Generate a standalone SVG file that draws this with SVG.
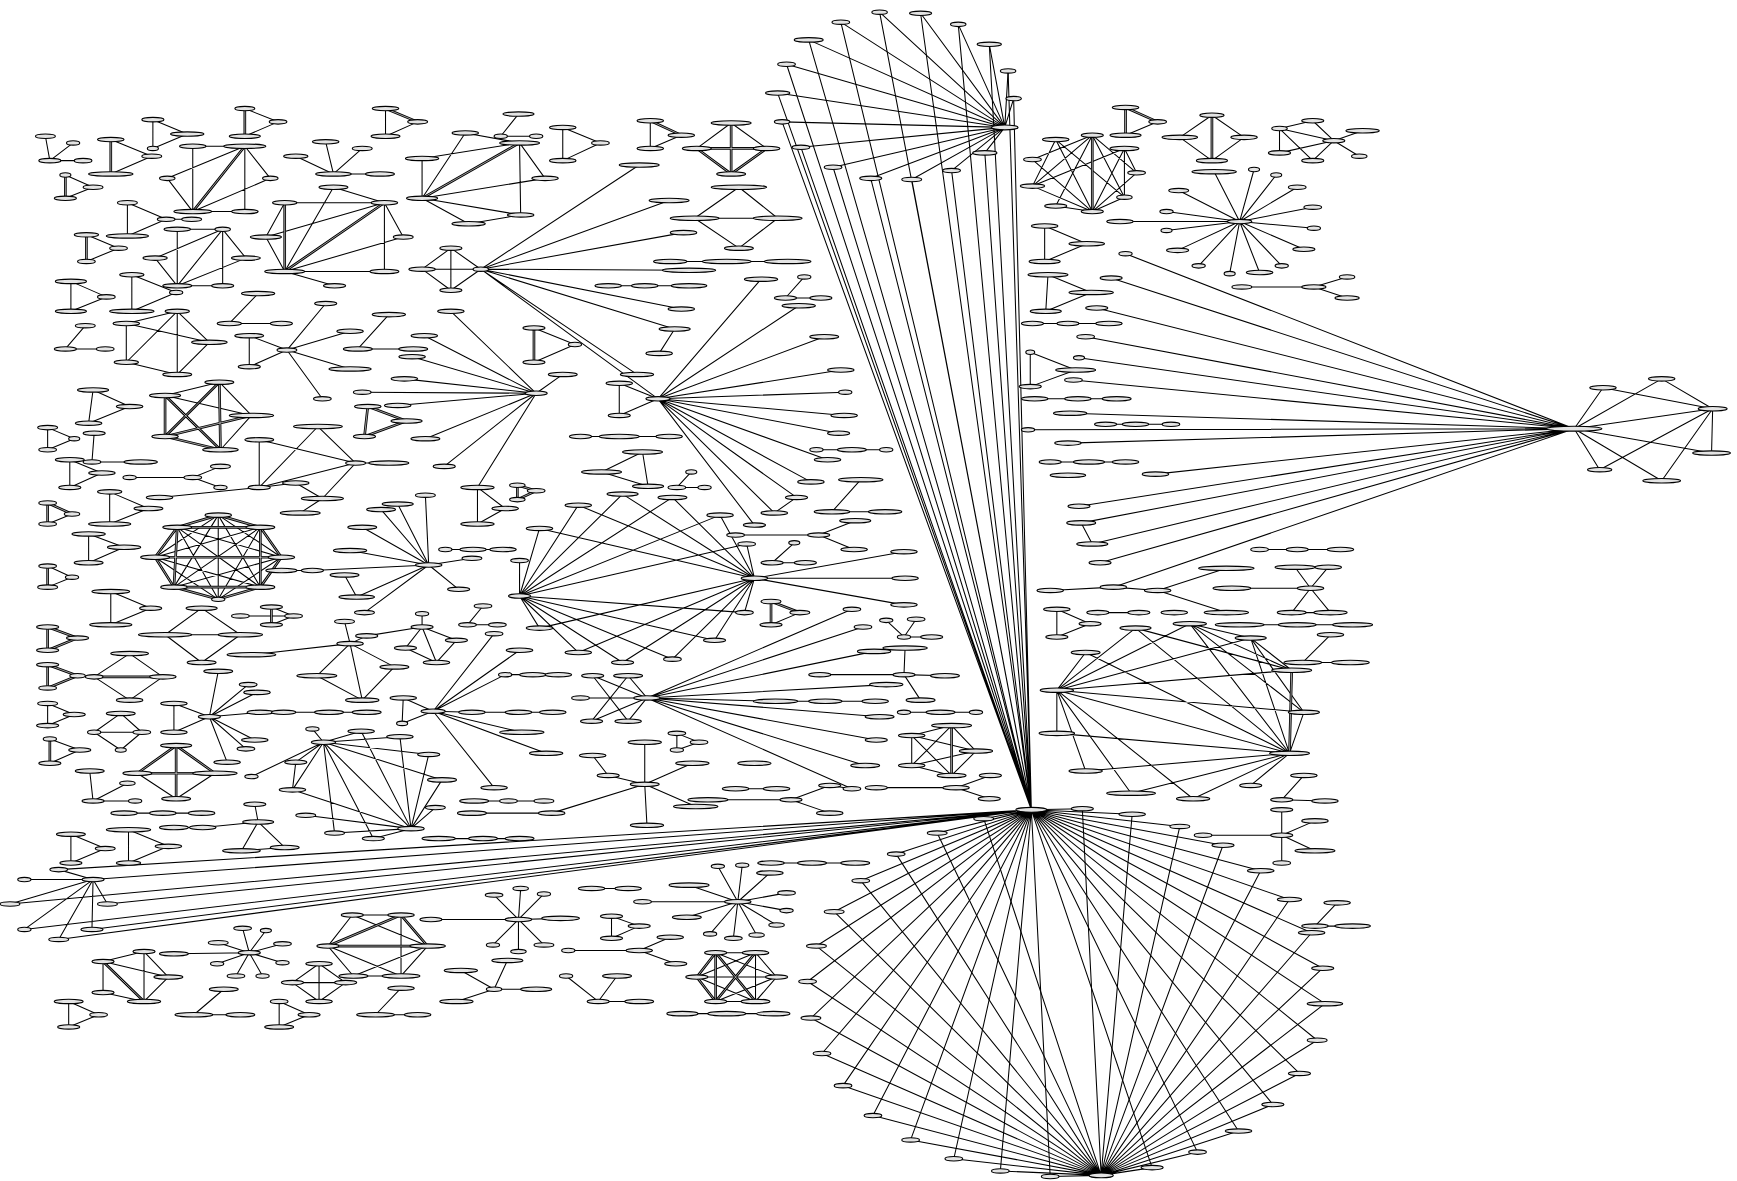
<svg xmlns="http://www.w3.org/2000/svg" width="1737" height="1181" viewBox="0 0 1737 1181">
<style>
.nodes ellipse{fill:#e4e4e4;stroke:#000;stroke-width:1}
#connectors path{fill:none;stroke:#000;stroke-width:.95}
</style>
<defs>
<path id="thA" d="M59 158L59 179M100 126L100 157M221 98L221 123M221 132L174 191M348 98L377 110M469 129L381 179M78 212L78 236M347 183L257 245M257 183L257 245M482 296L482 327"/>
<path id="thB" d="M467 438L467 451M467 438L484 443M484 443L467 451M587 109L615 122M660 111L660 157M629 134L692 134M629 134L660 157M692 134L660 157"/>
<path id="thC" d="M696 543L696 564M696 543L722 553M859 655L859 700"/>
<path id="thD" d="M198 345L149 394M198 345L199 406M149 357L199 406M149 357L149 394M227 375L149 394M149 394L199 406M43 454L43 473M43 454L65 464M43 511L43 530M43 566L43 587M43 566L70 576M70 576L43 587M43 600L43 621M43 600L70 610M70 610L43 621M45 667L45 689M85 611L147 611M159 673L124 698M159 673L194 698M124 698L194 698M159 673L159 721M197 465L160 476M197 465L235 476M160 476L140 503M235 476L254 503M140 503L157 530M254 503L235 530M157 530L197 541M235 530L197 541M160 476L157 530M235 476L235 530M160 476L235 476M157 530L235 530M140 503L254 503M245 548L245 564M332 367L329 394M332 367L367 380M367 380L329 394"/>
<path id="thE" d="M93 868L130 904M362 826L296 854M362 826L386 854M296 854L386 854M646 860L629 882M646 860L646 904M646 860L682 904M629 882L646 904M682 860L646 904"/>
<path id="thF" d="M1094 104L1094 145M1016 97L1016 122M1016 97L1045 110M986 122L986 191M1164 680L1166 605"/>
</defs>
<rect width="1737" height="1181" fill="#fff"/>
<g transform="scale(1.1078)">
<g id="connectors">
<path d="M907 115L759 20M907 115L794 11M907 115L831 12M907 115L865 22M907 115L893 40M907 115L910 64M907 115L915 89M907 115L730 36M907 115L710 58M907 115L702 84M907 115L706 110M907 115L723 133M907 115L752 151M907 115L786 161M907 115L823 162M907 115L859 154M907 115L889 138"/>
<path d="M759 20L931 731M794 11L931 731M831 12L931 731M865 22L931 731M893 40L931 731M910 64L931 731M915 89L931 731M730 36L931 731M710 58L931 731M702 84L931 731M706 110L931 731M723 133L931 731M752 151L931 731M786 161L931 731M823 162L931 731M859 154L931 731M889 138L931 731"/>
<path d="M931 731L888 739M931 731L846 752M931 731L809 771M931 731L777 795M931 731L753 823M931 731L737 854M931 731L729 886M931 731L732 919M931 731L742 951M931 731L761 980M931 731L788 1007M931 731L822 1029M931 731L861 1046M931 731L903 1057M931 731L948 1062M931 731L977 730M931 731L1022 735M931 731L1065 746M931 731L1104 763M931 731L1138 786M931 731L1164 812M931 731L1184 842M931 731L1194 874M931 731L1196 906M931 731L1189 939M931 731L1173 969M931 731L1149 997M931 731L1118 1021M931 731L1081 1040M931 731L1040 1054"/>
<path d="M994 1061L888 739M994 1061L846 752M994 1061L809 771M994 1061L777 795M994 1061L753 823M994 1061L737 854M994 1061L729 886M994 1061L732 919M994 1061L742 951M994 1061L761 980M994 1061L788 1007M994 1061L822 1029M994 1061L861 1046M994 1061L903 1057M994 1061L948 1062M994 1061L977 730M994 1061L1022 735M994 1061L1065 746M994 1061L1104 763M994 1061L1138 786M994 1061L1164 812M994 1061L1184 842M994 1061L1194 874M994 1061L1196 906M994 1061L1189 939M994 1061L1173 969M994 1061L1149 997M994 1061L1118 1021M994 1061L1081 1040M994 1061L1040 1054"/>
<path d="M84 794L53 785M84 794L22 794M84 794L9 816M84 794L97 816M84 794L22 839M84 794L83 839M84 794L53 848M53 785L931 731M84 794L931 731M97 816L931 731M22 839L931 731M83 839L931 731M53 848L931 731M9 816L931 731"/>
<path d="M1421 387L1016 229M1421 387L1003 251M1421 387L990 278M1421 387L980 304M1421 387L974 323M1421 387L969 343M1421 387L966 373M1421 387L928 388M1421 387L964 400M1421 387L1043 428M1421 387L974 457M1421 387L976 472M1421 387L986 491M1421 387L993 508M1421 387L1005 530M1421 387L1447 350M1421 387L1500 342M1500 342L1546 369M1421 387L1546 369M1546 369L1545 409M1421 387L1545 409M1421 387L1444 424M1421 387L1500 434M1546 369L1444 424M1546 369L1500 434M1447 350L1546 369"/>
<path d="M41 123L45 145M66 129L45 145M45 145L75 145M59 158L84 169M84 169L59 179M100 126L137 141M137 141L100 157M138 108L138 134M138 108L169 121M169 121L138 134M221 98L251 110M251 110L221 123M221 132L174 132M221 132L151 161M221 132L244 161M221 132L221 191M174 132L174 191M151 161L174 191M174 191L244 161M174 191L221 191M348 98L348 123M377 110L348 123M294 128L301 157M327 134L301 157M267 141L301 157M301 157L343 157M468 103L452 123M452 123L484 123M469 129L420 120M469 129L381 143M469 129L492 161M469 129L470 194M381 143L381 179M420 120L381 179M381 179L492 161M381 179L423 202M423 202L470 194M381 179L470 194M508 115L508 145M508 115L542 129M542 129L508 145M115 183L115 213M115 183L150 198M150 198L173 198M150 198L115 213M78 212L107 224M107 224L78 236M201 207L160 207M201 207L140 233M201 207L160 258M201 207L201 258M201 207L222 233M160 207L160 258M140 233L160 258M160 258L201 258M160 258L222 233M64 254L64 281M64 254L96 268M96 268L64 281M119 248L119 281M119 248L159 264M159 264L119 281M347 183L257 183M301 169L257 245M347 183L240 214M347 183L347 245M347 183L364 214M257 183L240 214M240 214L257 245M257 245L347 245M257 245L364 214M257 245L302 258M301 169L347 183M233 265L207 292M207 292L254 292M77 294L59 315M59 315L95 315M160 281L114 292M160 281L189 309M160 281L160 338M114 292L114 327M160 281L114 327M114 327L160 338M189 309L160 338M114 292L189 309M259 316L294 274M259 316L316 299M259 316L225 331M225 303L225 331M225 303L259 316M259 316L316 333M259 316L291 360M351 284L323 315M323 315L373 315M482 296L519 311M519 311L482 327"/>
<path d="M381 243L407 224M381 243L407 262M381 243L434 243M407 224L407 262M407 224L434 243M407 262L434 243M434 243L577 149M434 243L604 181M434 243L617 210M434 243L622 244M434 243L615 279M434 243L609 297M434 243L575 338M609 297L595 319M434 243L594 360M549 258L582 258M582 258L622 258M484 355L383 303M484 355L372 322M484 355L365 342M484 355L327 354M484 355L407 281M484 355L508 338M484 355L384 396M484 355L401 421M484 355L431 440M484 355L359 366M594 360L687 252M594 360L721 276M594 360L744 304M594 360L759 334M594 360L763 354M594 360L762 375M594 360L757 391M594 360L747 415M594 360L732 435M594 360L719 449M594 360L699 463M594 360L681 474M594 360L559 346M594 360L559 375M559 346L559 375M719 449L699 463M726 250L709 269M709 269L741 269M737 406L769 406M769 406L800 406M777 433L751 462M751 462L799 462M664 483L739 483M739 483L772 470M739 483L771 496M717 490L697 508M697 508L727 508M524 394L559 394M559 394L604 394M543 426L580 408M580 408L585 439M543 426L585 439M624 426L611 440M611 440L636 440M431 440L431 473M431 440L456 459M456 459L431 473M587 109L587 134M615 122L587 134M660 111L629 134M660 111L692 134M667 169L627 197M667 169L702 197M627 197L702 197M627 197L667 224M702 197L667 224M605 236L656 236M656 236L711 236"/>
<path d="M469 538L469 506M469 538L487 477M469 538L522 456M469 538L562 446M469 538L607 449M469 538L650 465M469 538L674 491M469 538L487 567M469 538L522 589M469 538L562 598M469 538L607 595M469 538L645 578M469 538L672 553M681 522L487 477M681 522L522 456M681 522L562 446M681 522L607 449M681 522L650 465M681 522L674 491M681 522L487 567M681 522L522 589M681 522L562 598M681 522L607 595M681 522L645 578M681 522L672 553M681 522L816 498M681 522L817 522M681 522L816 546M722 553L696 564M584 630L769 550M584 630L779 566M584 630L789 588M584 630L800 618M584 630L794 647M584 630L791 668M584 630L781 691M584 630L769 712M584 630L524 630M584 630L535 610M584 630L567 610M584 630L534 651M584 630L567 651M535 610L567 651M567 610L534 651M584 630L700 633M700 633L745 633M745 633L790 633M817 585L816 609M740 609L816 609M816 609L853 610M816 609L831 632M800 560L816 575M827 559L816 575M816 575L841 575M816 643L849 643M849 643L881 643M823 664L859 655M823 664L823 691M823 664L881 678M823 664L859 700M859 655L881 678M859 655L823 691M823 691L881 678M823 691L859 700M881 678L859 700M611 662L611 677M611 662L631 670M631 670L611 677M582 670L582 708M582 708L625 689M582 708L584 745M582 708L628 728M535 682L549 700M549 700L582 708M498 734L582 708M426 734L498 734M664 712L701 712M639 722L714 722M714 722L749 709M714 722L749 734M749 709L769 712M791 711L863 711M863 711L894 700M863 711L893 721"/>
<path d="M84 352L80 382M84 352L117 367M117 367L80 382M198 345L149 357M198 345L227 375M149 357L227 375M227 375L199 406M43 386L43 406M43 386L67 396M67 396L43 406M85 391L83 417M83 417L127 417M63 415L63 440M63 415L92 427M92 427L63 440M117 431L174 431M174 431L199 421M174 431L199 440M99 444L99 473M99 444L134 459M134 459L99 473M65 464L43 473M80 482L80 508M80 482L112 494M112 494L80 508M43 511L65 521M65 521L43 530M100 534L100 564M100 534L136 549M136 549L100 564M43 635L43 655M43 635L67 645M67 645L43 655M45 667L72 677M72 677L45 689M81 696L84 723M115 707L84 723M84 723L122 723M182 549L149 573M182 549L217 573M149 573L217 573M149 573L182 598M217 573L182 598M117 590L85 611M117 590L147 611M85 611L117 632M147 611L117 632M109 644L85 661M109 644L128 661M85 661L109 677M128 661L109 677M85 661L128 661M124 698L159 721M194 698L159 721M197 465L140 503M197 465L254 503M197 465L157 530M197 465L235 530M197 465L197 541M160 476L254 503M160 476L235 530M160 476L197 541M235 476L140 503M235 476L157 530M235 476L197 541M140 503L235 530M140 503L197 541M254 503L157 530M254 503L197 541M245 548L265 556M265 556L245 564M217 556L265 556M287 385L321 418M234 397L234 440M234 397L321 418M321 418L351 418M321 418L234 440M321 418L291 450M234 440L287 385M234 440L267 436M267 436L291 450M144 449L234 440M291 450L271 463M387 510L316 497M387 510L327 476M387 510L344 460M387 510L359 455M387 510L384 447M387 510L426 504M387 510L414 532M387 510L329 553M387 510L322 539M311 519L322 539M387 510L282 515M282 515L254 515M402 496L427 496M427 496L454 496M381 554L381 566M381 566L366 585M381 566L394 598M381 566L412 578M412 578L394 598M366 585L394 598M381 566L331 574M436 547L422 564M422 564L449 564M316 581L311 561M316 581L227 591M316 581L286 610M316 581L356 602M316 581L331 574M286 610L327 632M356 602L327 632M316 581L327 632M391 642L364 630M391 642L363 653M391 642L446 572M391 642L469 587M391 642L456 609M391 642L426 643M391 642L471 661M391 642L493 680M391 642L446 711M364 630L363 653M426 643L468 643M468 643L499 643M456 609L481 609M481 609L504 609M189 647L197 606M189 647L224 618M189 647L232 625M189 647L235 643M189 647L230 668M189 647L222 676M189 647L205 688M189 647L157 635M189 647L157 661M157 635L157 661M256 643L297 643M297 643L331 643M292 670L282 658M292 670L326 660M292 670L361 665M292 670L387 681M292 670L399 704M292 670L267 688M292 670L264 713M292 670L302 752M292 670L337 757M292 670L371 748M292 670L227 701M371 748L326 660M371 748L361 665M371 748L387 681M371 748L399 704M371 748L393 729M371 748L302 752M371 748L337 757M371 748L264 713M371 748L276 736M267 688L264 713"/>
<path d="M112 734L147 734M147 734L182 734M230 726L233 742M233 742L183 747M157 747L183 747M233 742L218 768M233 742L257 765M218 768L257 765M64 753L64 779M64 753L95 766M95 766L64 779M116 749L116 779M116 749L152 764M152 764L116 779M396 757L436 757M436 757L469 757M428 723L459 723M459 723L491 723M93 868L130 859M93 868L93 896M130 859L130 904M130 859L152 882M93 868L152 882M152 882L130 904M93 896L130 904M62 904L62 927M62 904L89 916M89 916L62 927M202 893L175 916M175 916L217 916M252 904L252 927M252 904L279 916M279 916L252 927M362 892L339 916M339 916L377 916M288 870L264 887M288 870L312 887M264 887L288 904M312 887L288 904M264 887L312 887M288 870L288 904M318 826L362 826M318 826L296 854M362 826L362 881M296 854L319 881M296 854L362 881M386 854L362 881M319 881L362 881M318 826L386 854M386 854L319 881M225 860L219 838M225 860L240 840M225 860L255 852M225 860L255 869M225 860L237 881M225 860L213 881M225 860L196 870M225 860L197 851M225 860L157 861M468 830L446 808M468 830L470 802M468 830L491 807M468 830L506 829M468 830L491 853M468 830L468 859M468 830L445 853M468 830L389 830M446 893L458 867M446 893L416 876M446 893L484 893M446 893L412 904M666 814L648 782M666 814L670 781M666 814L695 788M666 814L710 806M666 814L710 822M666 814L701 835M666 814L683 844M666 814L662 847M666 814L641 843M666 814L620 828M666 814L622 799M666 814L580 814M696 779L733 779M733 779L772 779M534 802L567 802M552 827L552 847M552 827L577 836M577 836L552 847M577 858L605 846M577 858L610 870M513 858L577 858M646 860L682 860M646 860L701 882M682 860L629 882M682 860L701 882M682 860L682 904M629 882L701 882M629 882L682 904M701 882L646 904M701 882L682 904M646 904L682 904M616 915L656 915M656 915L698 915M511 881L540 904M557 881L540 904M540 904L577 904"/>
<path d="M1094 104L1065 124M1094 104L1123 124M1065 124L1094 145M1123 124L1094 145M1155 116L1155 138M1155 116L1185 109M1155 116L1204 127M1155 116L1185 145M1185 109L1204 127M1204 127L1230 118M1204 127L1155 138M1204 127L1185 145M1204 127L1227 141M1119 200L1096 155M1119 200L1132 153M1119 200L1152 158M1119 200L1171 169M1119 200L1185 187M1119 200L1186 206M1119 200L1177 225M1119 200L1157 240M1119 200L1137 246M1119 200L1110 247M1119 200L1082 240M1119 200L1063 226M1119 200L1053 208M1119 200L1053 191M1119 200L1064 172M1119 200L1011 200M1121 259L1186 259M1186 259L1216 250M1186 259L1216 269M1016 122L1045 110M986 122L932 144M986 122L953 186M986 122L1015 178M986 122L1026 156M986 122L932 168M953 126L986 191M953 126L1015 178M932 144L986 191M932 168L986 191M1015 134L986 191M1015 134L1026 156M1015 134L1015 178M1026 156L986 191M1015 178L986 191M953 186L986 191M953 126L932 168M1015 134L932 168M943 204L943 236M943 204L981 220M981 220L943 236M946 248L944 281M946 248L985 264M985 264L944 281M932 292L964 292M964 292L1001 292M930 318L930 349M930 318L971 334M971 334L930 349M934 360L973 360M973 360L1008 360M998 383L1025 383M1025 383L1057 383M948 417L983 417M983 417L1016 417M976 472L986 491M948 533L1005 530M1005 530L1045 533M954 550L954 575M954 550L984 563M984 563L954 575M991 553L1028 553M954 623L1025 567M954 623L1074 563M954 623L1129 576M954 623L1166 605M954 623L1177 643M954 623L1164 680M954 623L980 589M954 623L954 662M954 623L980 696M954 623L1021 716M954 623L1077 721M1164 680L1025 567M1164 680L1074 563M1164 680L1129 576M1164 680L1177 643M1164 680L980 589M1164 680L954 662M1164 680L980 696M1164 680L1021 716M1164 680L1077 721M1164 680L1129 709M1074 563L1129 576M1074 563L1166 605M1074 563L1177 643M1129 576L1177 643M1129 576L1166 605M1025 567L1166 605M1137 496L1171 496M1171 496L1210 496M1045 533L1107 513M1045 533L1107 553M1112 531L1183 531M1183 531L1169 512M1183 531L1199 512M1183 531L1166 553M1183 531L1201 553M1169 512L1199 512M1166 553L1201 553M1119 564L1171 564M1171 564L1221 564M1201 573L1176 598M1176 598L1219 598M1177 700L1157 722M1157 722L1196 723M1157 731L1157 754M1086 754L1157 754M1157 754L1187 741M1157 754L1187 768M1157 754L1157 779M1187 836L1207 815M1187 836L1221 836"/>
<g id="multiEdges" style="fill:none;stroke:#000;stroke-width:2.4">
<use href="#thA"/><use href="#thB"/><use href="#thC"/><use href="#thD"/><use href="#thE"/><use href="#thF"/>
</g>
<g id="multiEdgeGaps" style="fill:none;stroke:#fff;stroke-width:.55">
<use href="#thA"/><use href="#thB"/><use href="#thC"/><use href="#thD"/><use href="#thE"/><use href="#thF"/>
</g>
</g>
<g class="nodes">
<g id="hubT"><ellipse cx="907" cy="115" rx="12" ry="2.2"/></g>
<g id="t1"><ellipse cx="759" cy="20" rx="8" ry="2"/></g>
<g id="t2"><ellipse cx="794" cy="11" rx="7" ry="2"/></g>
<g id="t3"><ellipse cx="831" cy="12" rx="10" ry="2"/></g>
<g id="t4"><ellipse cx="865" cy="22" rx="7" ry="2"/></g>
<g id="t5"><ellipse cx="893" cy="40" rx="11" ry="2"/></g>
<g id="t6"><ellipse cx="910" cy="64" rx="7" ry="2"/></g>
<g id="t7"><ellipse cx="915" cy="89" rx="7" ry="2"/></g>
<g id="t8"><ellipse cx="730" cy="36" rx="13" ry="2"/></g>
<g id="t9"><ellipse cx="710" cy="58" rx="8" ry="2"/></g>
<g id="t10"><ellipse cx="702" cy="84" rx="11" ry="2"/></g>
<g id="t11"><ellipse cx="706" cy="110" rx="7" ry="2"/></g>
<g id="t12"><ellipse cx="723" cy="133" rx="8" ry="2"/></g>
<g id="t13"><ellipse cx="752" cy="151" rx="8" ry="2"/></g>
<g id="t14"><ellipse cx="786" cy="161" rx="10" ry="2"/></g>
<g id="t15"><ellipse cx="823" cy="162" rx="9" ry="2"/></g>
<g id="t16"><ellipse cx="859" cy="154" rx="8" ry="2"/></g>
<g id="t17"><ellipse cx="889" cy="138" rx="11" ry="2"/></g>
<g id="hubB"><ellipse cx="931" cy="731" rx="14" ry="2.2"/></g>
<g id="hubBB"><ellipse cx="994" cy="1061" rx="11" ry="2.2"/></g>
<g id="f1"><ellipse cx="888" cy="739" rx="9" ry="2"/></g>
<g id="f2"><ellipse cx="846" cy="752" rx="9" ry="2"/></g>
<g id="f3"><ellipse cx="809" cy="771" rx="8" ry="2"/></g>
<g id="f4"><ellipse cx="777" cy="795" rx="8" ry="2"/></g>
<g id="f5"><ellipse cx="753" cy="823" rx="9" ry="2"/></g>
<g id="f6"><ellipse cx="737" cy="854" rx="9" ry="2"/></g>
<g id="f7"><ellipse cx="729" cy="886" rx="8" ry="2"/></g>
<g id="f8"><ellipse cx="732" cy="919" rx="9" ry="2"/></g>
<g id="f9"><ellipse cx="742" cy="951" rx="8" ry="2"/></g>
<g id="f10"><ellipse cx="761" cy="980" rx="8" ry="2"/></g>
<g id="f11"><ellipse cx="788" cy="1007" rx="8" ry="2"/></g>
<g id="f12"><ellipse cx="822" cy="1029" rx="8" ry="2"/></g>
<g id="f13"><ellipse cx="861" cy="1046" rx="8" ry="2"/></g>
<g id="f14"><ellipse cx="903" cy="1057" rx="8" ry="2"/></g>
<g id="f15"><ellipse cx="948" cy="1062" rx="8" ry="2"/></g>
<g id="f16"><ellipse cx="977" cy="730" rx="10" ry="2"/></g>
<g id="f17"><ellipse cx="1022" cy="735" rx="12" ry="2"/></g>
<g id="f18"><ellipse cx="1065" cy="746" rx="9" ry="2"/></g>
<g id="f19"><ellipse cx="1104" cy="763" rx="10" ry="2"/></g>
<g id="f20"><ellipse cx="1138" cy="786" rx="12" ry="2"/></g>
<g id="f21"><ellipse cx="1164" cy="812" rx="11" ry="2"/></g>
<g id="f22"><ellipse cx="1184" cy="842" rx="12" ry="2"/></g>
<g id="f23"><ellipse cx="1194" cy="874" rx="10" ry="2"/></g>
<g id="f24"><ellipse cx="1196" cy="906" rx="16" ry="2"/></g>
<g id="f25"><ellipse cx="1189" cy="939" rx="9" ry="2"/></g>
<g id="f26"><ellipse cx="1173" cy="969" rx="10" ry="2"/></g>
<g id="f27"><ellipse cx="1149" cy="997" rx="10" ry="2"/></g>
<g id="f28"><ellipse cx="1118" cy="1021" rx="12" ry="2"/></g>
<g id="f29"><ellipse cx="1081" cy="1040" rx="8" ry="2"/></g>
<g id="f30"><ellipse cx="1040" cy="1054" rx="10" ry="2"/></g>
<g id="hubL"><ellipse cx="84" cy="794" rx="10" ry="2"/></g>
<g id="l1"><ellipse cx="53" cy="785" rx="8" ry="2"/></g>
<g id="l2"><ellipse cx="22" cy="794" rx="6" ry="2"/></g>
<g id="l3"><ellipse cx="9" cy="816" rx="9" ry="2"/></g>
<g id="l4"><ellipse cx="97" cy="816" rx="9" ry="2"/></g>
<g id="l5"><ellipse cx="22" cy="839" rx="6" ry="2"/></g>
<g id="l6"><ellipse cx="83" cy="839" rx="10" ry="2"/></g>
<g id="l7"><ellipse cx="53" cy="848" rx="9" ry="2"/></g>
<g id="hubR"><ellipse cx="1421" cy="387" rx="25" ry="2.2"/></g>
<g id="r1"><ellipse cx="1447" cy="350" rx="12" ry="2"/></g>
<g id="r2"><ellipse cx="1500" cy="342" rx="12" ry="2"/></g>
<g id="r3"><ellipse cx="1546" cy="369" rx="13" ry="2"/></g>
<g id="r4"><ellipse cx="1545" cy="409" rx="17" ry="2"/></g>
<g id="r5"><ellipse cx="1444" cy="424" rx="11" ry="2"/></g>
<g id="r6"><ellipse cx="1500" cy="434" rx="17" ry="2"/></g>
<g id="rs1"><ellipse cx="1016" cy="229" rx="6" ry="2"/></g>
<g id="rs2"><ellipse cx="1003" cy="251" rx="10" ry="2"/></g>
<g id="rs3"><ellipse cx="990" cy="278" rx="10" ry="2"/></g>
<g id="rs4"><ellipse cx="980" cy="304" rx="8" ry="2"/></g>
<g id="rs5"><ellipse cx="974" cy="323" rx="5" ry="2"/></g>
<g id="rs6"><ellipse cx="969" cy="343" rx="8" ry="2"/></g>
<g id="rs7"><ellipse cx="966" cy="373" rx="15" ry="2"/></g>
<g id="rs8"><ellipse cx="928" cy="388" rx="6" ry="2"/></g>
<g id="rs9"><ellipse cx="964" cy="400" rx="12" ry="2"/></g>
<g id="rs10"><ellipse cx="1043" cy="428" rx="12" ry="2"/></g>
<g id="rs11"><ellipse cx="974" cy="457" rx="10" ry="2"/></g>
<g id="rs12"><ellipse cx="976" cy="472" rx="13" ry="2"/></g>
<g id="rs13"><ellipse cx="986" cy="491" rx="14" ry="2"/></g>
<g id="rs14"><ellipse cx="993" cy="508" rx="10" ry="2"/></g>
<g id="rs15"><ellipse cx="1005" cy="530" rx="12" ry="2"/></g>
<g id="a1"><ellipse cx="41" cy="123" rx="9" ry="2"/></g>
<g id="a2"><ellipse cx="66" cy="129" rx="6" ry="2"/></g>
<g id="a3"><ellipse cx="45" cy="145" rx="10" ry="2"/></g>
<g id="a4"><ellipse cx="75" cy="145" rx="8" ry="2"/></g>
<g id="b1"><ellipse cx="59" cy="158" rx="5" ry="2"/></g>
<g id="b2"><ellipse cx="84" cy="169" rx="9" ry="2"/></g>
<g id="b3"><ellipse cx="59" cy="179" rx="10" ry="2"/></g>
<g id="c1"><ellipse cx="100" cy="126" rx="12" ry="2"/></g>
<g id="c2"><ellipse cx="137" cy="141" rx="9" ry="2"/></g>
<g id="c3"><ellipse cx="100" cy="157" rx="20" ry="2"/></g>
<g id="d1"><ellipse cx="138" cy="108" rx="10" ry="2"/></g>
<g id="d2"><ellipse cx="169" cy="121" rx="15" ry="2"/></g>
<g id="d3"><ellipse cx="138" cy="134" rx="5" ry="2"/></g>
<g id="e1"><ellipse cx="221" cy="98" rx="9" ry="2"/></g>
<g id="e2"><ellipse cx="251" cy="110" rx="8" ry="2"/></g>
<g id="e3"><ellipse cx="221" cy="123" rx="14" ry="2"/></g>
<g id="g1a"><ellipse cx="174" cy="132" rx="12" ry="2"/></g>
<g id="g1b"><ellipse cx="221" cy="132" rx="19" ry="2"/></g>
<g id="g1c"><ellipse cx="151" cy="161" rx="7" ry="2"/></g>
<g id="g1d"><ellipse cx="244" cy="161" rx="7" ry="2"/></g>
<g id="g1e"><ellipse cx="174" cy="191" rx="17" ry="2"/></g>
<g id="g1f"><ellipse cx="221" cy="191" rx="12" ry="2"/></g>
<g id="g2a"><ellipse cx="348" cy="98" rx="12" ry="2"/></g>
<g id="g2b"><ellipse cx="377" cy="110" rx="9" ry="2"/></g>
<g id="g2c"><ellipse cx="348" cy="123" rx="13" ry="2"/></g>
<g id="h1"><ellipse cx="294" cy="128" rx="12" ry="2"/></g>
<g id="h2"><ellipse cx="327" cy="134" rx="9" ry="2"/></g>
<g id="h3"><ellipse cx="267" cy="141" rx="11" ry="2"/></g>
<g id="h4"><ellipse cx="301" cy="157" rx="16" ry="2"/></g>
<g id="h5"><ellipse cx="343" cy="157" rx="13" ry="2"/></g>
<g id="i1"><ellipse cx="420" cy="120" rx="12" ry="2"/></g>
<g id="i2"><ellipse cx="468" cy="103" rx="14" ry="2"/></g>
<g id="i3"><ellipse cx="452" cy="123" rx="6" ry="2"/></g>
<g id="i4"><ellipse cx="484" cy="123" rx="6" ry="2"/></g>
<g id="i5"><ellipse cx="469" cy="129" rx="18" ry="2"/></g>
<g id="i6"><ellipse cx="381" cy="143" rx="15" ry="2"/></g>
<g id="i7"><ellipse cx="381" cy="179" rx="14" ry="2"/></g>
<g id="i8"><ellipse cx="492" cy="161" rx="12" ry="2"/></g>
<g id="i9"><ellipse cx="470" cy="194" rx="12" ry="2"/></g>
<g id="i10"><ellipse cx="423" cy="202" rx="15" ry="2"/></g>
<g id="j1"><ellipse cx="508" cy="115" rx="12" ry="2"/></g>
<g id="j2"><ellipse cx="508" cy="145" rx="12" ry="2"/></g>
<g id="j3"><ellipse cx="542" cy="129" rx="8" ry="2"/></g>
<g id="k1"><ellipse cx="115" cy="183" rx="9" ry="2"/></g>
<g id="k2"><ellipse cx="150" cy="198" rx="8" ry="2"/></g>
<g id="k3"><ellipse cx="173" cy="198" rx="9" ry="2"/></g>
<g id="k4"><ellipse cx="115" cy="213" rx="19" ry="2"/></g>
<g id="m0a"><ellipse cx="78" cy="212" rx="11" ry="2"/></g>
<g id="m0b"><ellipse cx="107" cy="224" rx="8" ry="2"/></g>
<g id="m0c"><ellipse cx="78" cy="236" rx="8" ry="2"/></g>
<g id="m1"><ellipse cx="160" cy="207" rx="12" ry="2"/></g>
<g id="m2"><ellipse cx="201" cy="207" rx="7" ry="2"/></g>
<g id="m3"><ellipse cx="140" cy="233" rx="11" ry="2"/></g>
<g id="m4"><ellipse cx="160" cy="258" rx="13" ry="2"/></g>
<g id="m5"><ellipse cx="201" cy="258" rx="10" ry="2"/></g>
<g id="m6"><ellipse cx="222" cy="233" rx="13" ry="2"/></g>
<g id="o1"><ellipse cx="64" cy="254" rx="14" ry="2"/></g>
<g id="o2"><ellipse cx="96" cy="268" rx="8" ry="2"/></g>
<g id="o3"><ellipse cx="64" cy="281" rx="14" ry="2"/></g>
<g id="p1"><ellipse cx="119" cy="248" rx="11" ry="2"/></g>
<g id="p2"><ellipse cx="159" cy="264" rx="6" ry="2"/></g>
<g id="p3"><ellipse cx="119" cy="281" rx="20" ry="2"/></g>
<g id="q1"><ellipse cx="257" cy="183" rx="11" ry="2"/></g>
<g id="q2"><ellipse cx="347" cy="183" rx="12" ry="2"/></g>
<g id="q3"><ellipse cx="301" cy="169" rx="13" ry="2"/></g>
<g id="q4"><ellipse cx="240" cy="214" rx="14" ry="2"/></g>
<g id="q5"><ellipse cx="364" cy="214" rx="9" ry="2"/></g>
<g id="q6"><ellipse cx="257" cy="245" rx="18" ry="2"/></g>
<g id="q7"><ellipse cx="347" cy="245" rx="13" ry="2"/></g>
<g id="q8"><ellipse cx="302" cy="258" rx="10" ry="2"/></g>
<g id="r0a"><ellipse cx="233" cy="265" rx="15" ry="2"/></g>
<g id="r0b"><ellipse cx="207" cy="292" rx="11" ry="2"/></g>
<g id="r0c"><ellipse cx="254" cy="292" rx="10" ry="2"/></g>
<g id="s1"><ellipse cx="77" cy="294" rx="9" ry="2"/></g>
<g id="s2"><ellipse cx="59" cy="315" rx="10" ry="2"/></g>
<g id="s3"><ellipse cx="95" cy="315" rx="8" ry="2"/></g>
<g id="u1"><ellipse cx="160" cy="281" rx="11" ry="2"/></g>
<g id="u2"><ellipse cx="114" cy="292" rx="12" ry="2"/></g>
<g id="u3"><ellipse cx="189" cy="309" rx="16" ry="2"/></g>
<g id="u4"><ellipse cx="114" cy="327" rx="11" ry="2"/></g>
<g id="u5"><ellipse cx="160" cy="338" rx="13" ry="2"/></g>
<g id="v1"><ellipse cx="259" cy="316" rx="9" ry="2"/></g>
<g id="v2"><ellipse cx="294" cy="274" rx="10" ry="2"/></g>
<g id="v3"><ellipse cx="316" cy="299" rx="12" ry="2"/></g>
<g id="v4"><ellipse cx="225" cy="303" rx="13" ry="2"/></g>
<g id="v5"><ellipse cx="225" cy="331" rx="10" ry="2"/></g>
<g id="v6"><ellipse cx="316" cy="333" rx="19" ry="2"/></g>
<g id="v7"><ellipse cx="291" cy="360" rx="8" ry="2"/></g>
<g id="w1"><ellipse cx="351" cy="284" rx="15" ry="2"/></g>
<g id="w2"><ellipse cx="323" cy="315" rx="13" ry="2"/></g>
<g id="w3"><ellipse cx="373" cy="315" rx="13" ry="2"/></g>
<g id="x1"><ellipse cx="482" cy="296" rx="10" ry="2"/></g>
<g id="x2"><ellipse cx="519" cy="311" rx="6" ry="2"/></g>
<g id="x3"><ellipse cx="482" cy="327" rx="10" ry="2"/></g>
<g id="hubH1"><ellipse cx="434" cy="243" rx="7" ry="2"/></g>
<g id="y1"><ellipse cx="381" cy="243" rx="12" ry="2"/></g>
<g id="y2"><ellipse cx="407" cy="224" rx="10" ry="2"/></g>
<g id="y3"><ellipse cx="407" cy="262" rx="10" ry="2"/></g>
<g id="y4"><ellipse cx="577" cy="149" rx="18" ry="2"/></g>
<g id="y5"><ellipse cx="604" cy="181" rx="18" ry="2"/></g>
<g id="y6"><ellipse cx="617" cy="210" rx="12" ry="2"/></g>
<g id="y7"><ellipse cx="622" cy="244" rx="24" ry="2"/></g>
<g id="y8"><ellipse cx="615" cy="279" rx="12" ry="2"/></g>
<g id="y9"><ellipse cx="609" cy="297" rx="14" ry="2"/></g>
<g id="y10"><ellipse cx="595" cy="319" rx="12" ry="2"/></g>
<g id="y11"><ellipse cx="575" cy="338" rx="15" ry="2"/></g>
<g id="y12"><ellipse cx="549" cy="258" rx="12" ry="2"/></g>
<g id="y13"><ellipse cx="582" cy="258" rx="12" ry="2"/></g>
<g id="y14"><ellipse cx="622" cy="258" rx="16" ry="2"/></g>
<g id="hubH8"><ellipse cx="484" cy="355" rx="10" ry="2"/></g>
<g id="z1"><ellipse cx="383" cy="303" rx="12" ry="2"/></g>
<g id="z2"><ellipse cx="372" cy="322" rx="12" ry="2"/></g>
<g id="z3"><ellipse cx="365" cy="342" rx="12" ry="2"/></g>
<g id="z4"><ellipse cx="327" cy="354" rx="8" ry="2"/></g>
<g id="z5"><ellipse cx="407" cy="281" rx="12" ry="2"/></g>
<g id="z6"><ellipse cx="508" cy="338" rx="13" ry="2"/></g>
<g id="z7"><ellipse cx="384" cy="396" rx="13" ry="2"/></g>
<g id="z8"><ellipse cx="401" cy="421" rx="10" ry="2"/></g>
<g id="z9"><ellipse cx="359" cy="366" rx="12" ry="2"/></g>
<g id="hubH2"><ellipse cx="594" cy="360" rx="11" ry="2"/></g>
<g id="aa1"><ellipse cx="687" cy="252" rx="15" ry="2"/></g>
<g id="aa2"><ellipse cx="721" cy="276" rx="15" ry="2"/></g>
<g id="aa3"><ellipse cx="744" cy="304" rx="13" ry="2"/></g>
<g id="aa4"><ellipse cx="759" cy="334" rx="12" ry="2"/></g>
<g id="aa5"><ellipse cx="763" cy="354" rx="6" ry="2"/></g>
<g id="aa6"><ellipse cx="762" cy="375" rx="12" ry="2"/></g>
<g id="aa7"><ellipse cx="757" cy="391" rx="10" ry="2"/></g>
<g id="aa8"><ellipse cx="747" cy="415" rx="12" ry="2"/></g>
<g id="aa9"><ellipse cx="732" cy="435" rx="12" ry="2"/></g>
<g id="aa10"><ellipse cx="719" cy="449" rx="10" ry="2"/></g>
<g id="aa11"><ellipse cx="699" cy="463" rx="12" ry="2"/></g>
<g id="aa12"><ellipse cx="681" cy="474" rx="10" ry="2"/></g>
<g id="aa13"><ellipse cx="559" cy="346" rx="12" ry="2"/></g>
<g id="aa14"><ellipse cx="559" cy="375" rx="10" ry="2"/></g>
<g id="ab1"><ellipse cx="726" cy="250" rx="6" ry="2"/></g>
<g id="ab2"><ellipse cx="709" cy="269" rx="10" ry="2"/></g>
<g id="ab3"><ellipse cx="741" cy="269" rx="10" ry="2"/></g>
<g id="ac1"><ellipse cx="737" cy="406" rx="6" ry="2"/></g>
<g id="ac2"><ellipse cx="769" cy="406" rx="13" ry="2"/></g>
<g id="ac3"><ellipse cx="800" cy="406" rx="6" ry="2"/></g>
<g id="ad1"><ellipse cx="777" cy="433" rx="20" ry="2"/></g>
<g id="ad2"><ellipse cx="751" cy="462" rx="16" ry="2"/></g>
<g id="ad3"><ellipse cx="799" cy="462" rx="15" ry="2"/></g>
<g id="ae1"><ellipse cx="739" cy="483" rx="10" ry="2"/></g>
<g id="ae2"><ellipse cx="664" cy="483" rx="8" ry="2"/></g>
<g id="ae3"><ellipse cx="772" cy="470" rx="14" ry="2"/></g>
<g id="ae4"><ellipse cx="771" cy="496" rx="12" ry="2"/></g>
<g id="af1"><ellipse cx="717" cy="490" rx="5" ry="2"/></g>
<g id="af2"><ellipse cx="697" cy="508" rx="10" ry="2"/></g>
<g id="af3"><ellipse cx="727" cy="508" rx="10" ry="2"/></g>
<g id="ax1"><ellipse cx="524" cy="394" rx="10" ry="2"/></g>
<g id="ax2"><ellipse cx="559" cy="394" rx="18" ry="2"/></g>
<g id="ax3"><ellipse cx="604" cy="394" rx="12" ry="2"/></g>
<g id="ax4"><ellipse cx="543" cy="426" rx="18" ry="2"/></g>
<g id="ax5"><ellipse cx="580" cy="408" rx="18" ry="2"/></g>
<g id="ax6"><ellipse cx="585" cy="439" rx="14" ry="2"/></g>
<g id="ax7"><ellipse cx="624" cy="426" rx="5" ry="2"/></g>
<g id="ax8"><ellipse cx="611" cy="440" rx="8" ry="2"/></g>
<g id="ax9"><ellipse cx="636" cy="440" rx="6" ry="2"/></g>
<g id="ay1"><ellipse cx="431" cy="440" rx="15" ry="2"/></g>
<g id="ay2"><ellipse cx="456" cy="459" rx="12" ry="2"/></g>
<g id="ay3"><ellipse cx="431" cy="473" rx="15" ry="2"/></g>
<g id="ay4"><ellipse cx="467" cy="438" rx="7" ry="2"/></g>
<g id="ay5"><ellipse cx="484" cy="443" rx="8" ry="2"/></g>
<g id="ay6"><ellipse cx="467" cy="451" rx="7" ry="2"/></g>
<g id="tp1"><ellipse cx="587" cy="109" rx="12" ry="2"/></g>
<g id="tp2"><ellipse cx="615" cy="122" rx="12" ry="2"/></g>
<g id="tp3"><ellipse cx="587" cy="134" rx="12" ry="2"/></g>
<g id="dm1"><ellipse cx="660" cy="111" rx="18" ry="2"/></g>
<g id="dm2"><ellipse cx="629" cy="134" rx="13" ry="2"/></g>
<g id="dm3"><ellipse cx="692" cy="134" rx="12" ry="2"/></g>
<g id="dm4"><ellipse cx="660" cy="157" rx="13" ry="2"/></g>
<g id="dn1"><ellipse cx="667" cy="169" rx="25" ry="2"/></g>
<g id="dn2"><ellipse cx="627" cy="197" rx="22" ry="2"/></g>
<g id="dn3"><ellipse cx="702" cy="197" rx="22" ry="2"/></g>
<g id="dn4"><ellipse cx="667" cy="224" rx="13" ry="2"/></g>
<g id="ch1"><ellipse cx="605" cy="236" rx="15" ry="2"/></g>
<g id="ch2"><ellipse cx="656" cy="236" rx="22" ry="2"/></g>
<g id="ch3"><ellipse cx="711" cy="236" rx="21" ry="2"/></g>
<g id="hubH4"><ellipse cx="469" cy="538" rx="10" ry="2"/></g>
<g id="hubH3"><ellipse cx="681" cy="522" rx="12" ry="2"/></g>
<g id="ag0"><ellipse cx="469" cy="506" rx="8" ry="2"/></g>
<g id="ag1"><ellipse cx="487" cy="477" rx="12" ry="2"/></g>
<g id="ag2"><ellipse cx="522" cy="456" rx="12" ry="2"/></g>
<g id="ag3"><ellipse cx="562" cy="446" rx="14" ry="2"/></g>
<g id="ag4"><ellipse cx="607" cy="449" rx="13" ry="2"/></g>
<g id="ag5"><ellipse cx="650" cy="465" rx="12" ry="2"/></g>
<g id="ag6"><ellipse cx="674" cy="491" rx="8" ry="2"/></g>
<g id="ag7"><ellipse cx="487" cy="567" rx="12" ry="2"/></g>
<g id="ag8"><ellipse cx="522" cy="589" rx="12" ry="2"/></g>
<g id="ag9"><ellipse cx="562" cy="598" rx="10" ry="2"/></g>
<g id="ag10"><ellipse cx="607" cy="595" rx="8" ry="2"/></g>
<g id="ag11"><ellipse cx="645" cy="578" rx="10" ry="2"/></g>
<g id="ag12"><ellipse cx="672" cy="553" rx="8" ry="2"/></g>
<g id="ag13"><ellipse cx="816" cy="498" rx="12" ry="2"/></g>
<g id="ag14"><ellipse cx="817" cy="522" rx="12" ry="2"/></g>
<g id="ag15"><ellipse cx="816" cy="546" rx="12" ry="2"/></g>
<g id="ah1"><ellipse cx="696" cy="543" rx="9" ry="2"/></g>
<g id="ah2"><ellipse cx="722" cy="553" rx="9" ry="2"/></g>
<g id="ah3"><ellipse cx="696" cy="564" rx="10" ry="2"/></g>
<g id="hubH5"><ellipse cx="584" cy="630" rx="12" ry="2"/></g>
<g id="ai1"><ellipse cx="769" cy="550" rx="8" ry="2"/></g>
<g id="ai2"><ellipse cx="779" cy="566" rx="8" ry="2"/></g>
<g id="ai3"><ellipse cx="789" cy="588" rx="15" ry="2"/></g>
<g id="ai4"><ellipse cx="800" cy="618" rx="15" ry="2"/></g>
<g id="ai5"><ellipse cx="794" cy="647" rx="13" ry="2"/></g>
<g id="ai6"><ellipse cx="791" cy="668" rx="10" ry="2"/></g>
<g id="ai7"><ellipse cx="781" cy="691" rx="13" ry="2"/></g>
<g id="ai8"><ellipse cx="769" cy="712" rx="8" ry="2"/></g>
<g id="ai9"><ellipse cx="524" cy="630" rx="8" ry="2"/></g>
<g id="ai10"><ellipse cx="535" cy="610" rx="10" ry="2"/></g>
<g id="ai11"><ellipse cx="567" cy="610" rx="13" ry="2"/></g>
<g id="ai12"><ellipse cx="534" cy="651" rx="10" ry="2"/></g>
<g id="ai13"><ellipse cx="567" cy="651" rx="12" ry="2"/></g>
<g id="aj1"><ellipse cx="700" cy="633" rx="20" ry="2"/></g>
<g id="aj2"><ellipse cx="745" cy="633" rx="15" ry="2"/></g>
<g id="aj3"><ellipse cx="790" cy="633" rx="12" ry="2"/></g>
<g id="ak1"><ellipse cx="817" cy="585" rx="20" ry="2"/></g>
<g id="ak2"><ellipse cx="816" cy="609" rx="10" ry="2"/></g>
<g id="ak3"><ellipse cx="740" cy="609" rx="10" ry="2"/></g>
<g id="ak4"><ellipse cx="853" cy="610" rx="13" ry="2"/></g>
<g id="ak5"><ellipse cx="831" cy="632" rx="13" ry="2"/></g>
<g id="al1"><ellipse cx="800" cy="560" rx="6" ry="2"/></g>
<g id="al2"><ellipse cx="827" cy="559" rx="8" ry="2"/></g>
<g id="al3"><ellipse cx="816" cy="575" rx="6" ry="2"/></g>
<g id="al4"><ellipse cx="841" cy="575" rx="10" ry="2"/></g>
<g id="am1"><ellipse cx="816" cy="643" rx="6" ry="2"/></g>
<g id="am2"><ellipse cx="849" cy="643" rx="13" ry="2"/></g>
<g id="am3"><ellipse cx="881" cy="643" rx="6" ry="2"/></g>
<g id="an1"><ellipse cx="823" cy="664" rx="12" ry="2"/></g>
<g id="an2"><ellipse cx="859" cy="655" rx="18" ry="2"/></g>
<g id="an3"><ellipse cx="881" cy="678" rx="15" ry="2"/></g>
<g id="an4"><ellipse cx="823" cy="691" rx="12" ry="2"/></g>
<g id="an5"><ellipse cx="859" cy="700" rx="13" ry="2"/></g>
<g id="ao1"><ellipse cx="611" cy="662" rx="8" ry="2"/></g>
<g id="ao2"><ellipse cx="631" cy="670" rx="8" ry="2"/></g>
<g id="ao3"><ellipse cx="611" cy="677" rx="6" ry="2"/></g>
<g id="ap1"><ellipse cx="582" cy="670" rx="15" ry="2"/></g>
<g id="ap2"><ellipse cx="582" cy="708" rx="13" ry="2"/></g>
<g id="ap3"><ellipse cx="535" cy="682" rx="12" ry="2"/></g>
<g id="ap4"><ellipse cx="549" cy="700" rx="10" ry="2"/></g>
<g id="ap5"><ellipse cx="625" cy="689" rx="15" ry="2"/></g>
<g id="ap6"><ellipse cx="681" cy="689" rx="15" ry="2"/></g>
<g id="ap7"><ellipse cx="584" cy="745" rx="15" ry="2"/></g>
<g id="ap8"><ellipse cx="628" cy="728" rx="20" ry="2"/></g>
<g id="ap9"><ellipse cx="498" cy="734" rx="12" ry="2"/></g>
<g id="ap10"><ellipse cx="426" cy="734" rx="13" ry="2"/></g>
<g id="aq1"><ellipse cx="664" cy="712" rx="12" ry="2"/></g>
<g id="aq2"><ellipse cx="701" cy="712" rx="12" ry="2"/></g>
<g id="ar1"><ellipse cx="639" cy="722" rx="18" ry="2"/></g>
<g id="ar2"><ellipse cx="714" cy="722" rx="10" ry="2"/></g>
<g id="ar3"><ellipse cx="749" cy="709" rx="10" ry="2"/></g>
<g id="ar4"><ellipse cx="749" cy="734" rx="12" ry="2"/></g>
<g id="as1"><ellipse cx="791" cy="711" rx="10" ry="2"/></g>
<g id="as2"><ellipse cx="863" cy="711" rx="12" ry="2"/></g>
<g id="as3"><ellipse cx="894" cy="700" rx="10" ry="2"/></g>
<g id="as4"><ellipse cx="893" cy="721" rx="10" ry="2"/></g>
<g id="bt1"><ellipse cx="84" cy="352" rx="14" ry="2"/></g>
<g id="bt2"><ellipse cx="117" cy="367" rx="12" ry="2"/></g>
<g id="bt3"><ellipse cx="80" cy="382" rx="12" ry="2"/></g>
<g id="k51"><ellipse cx="198" cy="345" rx="13" ry="2"/></g>
<g id="k52"><ellipse cx="149" cy="357" rx="14" ry="2"/></g>
<g id="k53"><ellipse cx="227" cy="375" rx="20" ry="2"/></g>
<g id="k54"><ellipse cx="149" cy="394" rx="12" ry="2"/></g>
<g id="k55"><ellipse cx="199" cy="406" rx="16" ry="2"/></g>
<g id="lt1"><ellipse cx="43" cy="386" rx="9" ry="2"/></g>
<g id="lt2"><ellipse cx="67" cy="396" rx="5" ry="2"/></g>
<g id="lt3"><ellipse cx="43" cy="406" rx="8" ry="2"/></g>
<g id="lu1"><ellipse cx="85" cy="391" rx="10" ry="2"/></g>
<g id="lu2"><ellipse cx="83" cy="417" rx="8" ry="2"/></g>
<g id="lu3"><ellipse cx="127" cy="417" rx="15" ry="2"/></g>
<g id="lv1"><ellipse cx="63" cy="415" rx="13" ry="2"/></g>
<g id="lv2"><ellipse cx="92" cy="427" rx="12" ry="2"/></g>
<g id="lv3"><ellipse cx="63" cy="440" rx="10" ry="2"/></g>
<g id="lw1"><ellipse cx="117" cy="431" rx="6" ry="2"/></g>
<g id="lw2"><ellipse cx="174" cy="431" rx="8" ry="2"/></g>
<g id="lw3"><ellipse cx="199" cy="421" rx="9" ry="2"/></g>
<g id="lw4"><ellipse cx="199" cy="440" rx="6" ry="2"/></g>
<g id="lx1"><ellipse cx="99" cy="444" rx="11" ry="2"/></g>
<g id="lx2"><ellipse cx="134" cy="459" rx="13" ry="2"/></g>
<g id="lx3"><ellipse cx="99" cy="473" rx="19" ry="2"/></g>
<g id="ly1"><ellipse cx="43" cy="454" rx="8" ry="2"/></g>
<g id="ly2"><ellipse cx="65" cy="464" rx="7" ry="2"/></g>
<g id="ly3"><ellipse cx="43" cy="473" rx="8" ry="2"/></g>
<g id="lz1"><ellipse cx="80" cy="482" rx="15" ry="2"/></g>
<g id="lz2"><ellipse cx="112" cy="494" rx="15" ry="2"/></g>
<g id="lz3"><ellipse cx="80" cy="508" rx="13" ry="2"/></g>
<g id="ma1"><ellipse cx="43" cy="511" rx="8" ry="2"/></g>
<g id="ma2"><ellipse cx="65" cy="521" rx="6" ry="2"/></g>
<g id="ma3"><ellipse cx="43" cy="530" rx="9" ry="2"/></g>
<g id="mb1"><ellipse cx="100" cy="534" rx="17" ry="2"/></g>
<g id="mb2"><ellipse cx="136" cy="549" rx="10" ry="2"/></g>
<g id="mb3"><ellipse cx="100" cy="564" rx="19" ry="2"/></g>
<g id="mc1"><ellipse cx="43" cy="566" rx="10" ry="2"/></g>
<g id="mc2"><ellipse cx="70" cy="576" rx="10" ry="2"/></g>
<g id="mc3"><ellipse cx="43" cy="587" rx="10" ry="2"/></g>
<g id="md1"><ellipse cx="43" cy="600" rx="10" ry="2"/></g>
<g id="md2"><ellipse cx="70" cy="610" rx="7" ry="2"/></g>
<g id="md3"><ellipse cx="43" cy="621" rx="8" ry="2"/></g>
<g id="me1"><ellipse cx="43" cy="635" rx="9" ry="2"/></g>
<g id="me2"><ellipse cx="67" cy="645" rx="10" ry="2"/></g>
<g id="me3"><ellipse cx="43" cy="655" rx="10" ry="2"/></g>
<g id="mf1"><ellipse cx="45" cy="667" rx="6" ry="2"/></g>
<g id="mf2"><ellipse cx="72" cy="677" rx="10" ry="2"/></g>
<g id="mf3"><ellipse cx="45" cy="689" rx="10" ry="2"/></g>
<g id="mg1"><ellipse cx="81" cy="696" rx="13" ry="2"/></g>
<g id="mg2"><ellipse cx="115" cy="707" rx="7" ry="2"/></g>
<g id="mg3"><ellipse cx="84" cy="723" rx="10" ry="2"/></g>
<g id="mg4"><ellipse cx="122" cy="723" rx="6" ry="2"/></g>
<g id="dd1"><ellipse cx="182" cy="549" rx="14" ry="2"/></g>
<g id="dd2"><ellipse cx="149" cy="573" rx="24" ry="2"/></g>
<g id="dd3"><ellipse cx="217" cy="573" rx="20" ry="2"/></g>
<g id="dd4"><ellipse cx="182" cy="598" rx="13" ry="2"/></g>
<g id="de1"><ellipse cx="117" cy="590" rx="17" ry="2"/></g>
<g id="de2"><ellipse cx="85" cy="611" rx="8" ry="2"/></g>
<g id="de3"><ellipse cx="147" cy="611" rx="12" ry="2"/></g>
<g id="de4"><ellipse cx="117" cy="632" rx="12" ry="2"/></g>
<g id="df1"><ellipse cx="109" cy="644" rx="13" ry="2"/></g>
<g id="df2"><ellipse cx="85" cy="661" rx="6" ry="2"/></g>
<g id="df3"><ellipse cx="128" cy="661" rx="8" ry="2"/></g>
<g id="df4"><ellipse cx="109" cy="677" rx="5" ry="2"/></g>
<g id="dg1"><ellipse cx="159" cy="673" rx="14" ry="2"/></g>
<g id="dg2"><ellipse cx="124" cy="698" rx="13" ry="2"/></g>
<g id="dg3"><ellipse cx="194" cy="698" rx="20" ry="2"/></g>
<g id="dg4"><ellipse cx="159" cy="721" rx="13" ry="2"/></g>
<g id="k81"><ellipse cx="197" cy="465" rx="12" ry="2"/></g>
<g id="k82"><ellipse cx="160" cy="476" rx="13" ry="2"/></g>
<g id="k83"><ellipse cx="235" cy="476" rx="13" ry="2"/></g>
<g id="k84"><ellipse cx="140" cy="503" rx="13" ry="2"/></g>
<g id="k85"><ellipse cx="254" cy="503" rx="12" ry="2"/></g>
<g id="k86"><ellipse cx="157" cy="530" rx="12" ry="2"/></g>
<g id="k87"><ellipse cx="235" cy="530" rx="13" ry="2"/></g>
<g id="k88"><ellipse cx="197" cy="541" rx="6" ry="2"/></g>
<g id="sm1"><ellipse cx="217" cy="556" rx="8" ry="2"/></g>
<g id="sm2"><ellipse cx="245" cy="548" rx="10" ry="2"/></g>
<g id="sm3"><ellipse cx="265" cy="556" rx="8" ry="2"/></g>
<g id="sm4"><ellipse cx="245" cy="564" rx="10" ry="2"/></g>
<g id="cl1"><ellipse cx="287" cy="385" rx="22" ry="2"/></g>
<g id="cl2"><ellipse cx="234" cy="397" rx="13" ry="2"/></g>
<g id="cl3"><ellipse cx="321" cy="418" rx="9" ry="2"/></g>
<g id="cl4"><ellipse cx="351" cy="418" rx="18" ry="2"/></g>
<g id="cl5"><ellipse cx="234" cy="440" rx="10" ry="2"/></g>
<g id="cl6"><ellipse cx="267" cy="436" rx="12" ry="2"/></g>
<g id="cl7"><ellipse cx="291" cy="450" rx="19" ry="2"/></g>
<g id="cl8"><ellipse cx="271" cy="463" rx="18" ry="2"/></g>
<g id="cl9"><ellipse cx="144" cy="449" rx="12" ry="2"/></g>
<g id="tt1"><ellipse cx="332" cy="367" rx="12" ry="2"/></g>
<g id="tt2"><ellipse cx="367" cy="380" rx="14" ry="2"/></g>
<g id="tt3"><ellipse cx="329" cy="394" rx="10" ry="2"/></g>
<g id="hubS"><ellipse cx="387" cy="510" rx="12" ry="2"/></g>
<g id="sa1"><ellipse cx="384" cy="447" rx="9" ry="2"/></g>
<g id="sa2"><ellipse cx="359" cy="455" rx="14" ry="2"/></g>
<g id="sa3"><ellipse cx="344" cy="460" rx="13" ry="2"/></g>
<g id="sa4"><ellipse cx="327" cy="476" rx="13" ry="2"/></g>
<g id="sa5"><ellipse cx="316" cy="497" rx="15" ry="2"/></g>
<g id="sa6"><ellipse cx="426" cy="504" rx="9" ry="2"/></g>
<g id="sa7"><ellipse cx="414" cy="532" rx="10" ry="2"/></g>
<g id="sa8"><ellipse cx="329" cy="553" rx="9" ry="2"/></g>
<g id="sa9"><ellipse cx="311" cy="519" rx="13" ry="2"/></g>
<g id="sa10"><ellipse cx="322" cy="539" rx="16" ry="2"/></g>
<g id="sa11"><ellipse cx="254" cy="515" rx="14" ry="2"/></g>
<g id="sa12"><ellipse cx="282" cy="515" rx="10" ry="2"/></g>
<g id="sb1"><ellipse cx="402" cy="496" rx="6" ry="2"/></g>
<g id="sb2"><ellipse cx="427" cy="496" rx="12" ry="2"/></g>
<g id="sb3"><ellipse cx="454" cy="496" rx="12" ry="2"/></g>
<g id="qq1"><ellipse cx="381" cy="554" rx="6" ry="2"/></g>
<g id="qq2"><ellipse cx="381" cy="566" rx="10" ry="2"/></g>
<g id="qq3"><ellipse cx="366" cy="585" rx="10" ry="2"/></g>
<g id="qq4"><ellipse cx="394" cy="598" rx="12" ry="2"/></g>
<g id="qq5"><ellipse cx="412" cy="578" rx="10" ry="2"/></g>
<g id="qq6"><ellipse cx="331" cy="574" rx="10" ry="2"/></g>
<g id="qr1"><ellipse cx="436" cy="547" rx="8" ry="2"/></g>
<g id="qr2"><ellipse cx="422" cy="564" rx="8" ry="2"/></g>
<g id="qr3"><ellipse cx="449" cy="564" rx="8" ry="2"/></g>
<g id="qs1"><ellipse cx="311" cy="561" rx="9" ry="2"/></g>
<g id="qs2"><ellipse cx="316" cy="581" rx="12" ry="2"/></g>
<g id="qs3"><ellipse cx="227" cy="591" rx="22" ry="2"/></g>
<g id="qs4"><ellipse cx="286" cy="610" rx="18" ry="2"/></g>
<g id="qs5"><ellipse cx="356" cy="602" rx="13" ry="2"/></g>
<g id="qs6"><ellipse cx="327" cy="632" rx="15" ry="2"/></g>
<g id="hubH6"><ellipse cx="391" cy="642" rx="11" ry="2"/></g>
<g id="h6a"><ellipse cx="364" cy="630" rx="12" ry="2"/></g>
<g id="h6b"><ellipse cx="363" cy="653" rx="5" ry="2"/></g>
<g id="h6c"><ellipse cx="446" cy="572" rx="8" ry="2"/></g>
<g id="h6d"><ellipse cx="469" cy="587" rx="12" ry="2"/></g>
<g id="h6e"><ellipse cx="456" cy="609" rx="6" ry="2"/></g>
<g id="h6f"><ellipse cx="481" cy="609" rx="12" ry="2"/></g>
<g id="h6g"><ellipse cx="504" cy="609" rx="12" ry="2"/></g>
<g id="h6h"><ellipse cx="426" cy="643" rx="12" ry="2"/></g>
<g id="h6i"><ellipse cx="468" cy="643" rx="12" ry="2"/></g>
<g id="h6j"><ellipse cx="499" cy="643" rx="12" ry="2"/></g>
<g id="h6k"><ellipse cx="471" cy="661" rx="20" ry="2"/></g>
<g id="h6l"><ellipse cx="493" cy="680" rx="15" ry="2"/></g>
<g id="h6m"><ellipse cx="446" cy="711" rx="12" ry="2"/></g>
<g id="hubH9"><ellipse cx="189" cy="647" rx="10" ry="2"/></g>
<g id="h9a"><ellipse cx="197" cy="606" rx="13" ry="2"/></g>
<g id="h9b"><ellipse cx="224" cy="618" rx="8" ry="2"/></g>
<g id="h9c"><ellipse cx="232" cy="625" rx="12" ry="2"/></g>
<g id="h9d"><ellipse cx="235" cy="643" rx="12" ry="2"/></g>
<g id="h9e"><ellipse cx="230" cy="668" rx="12" ry="2"/></g>
<g id="h9f"><ellipse cx="222" cy="676" rx="8" ry="2"/></g>
<g id="h9g"><ellipse cx="205" cy="688" rx="12" ry="2"/></g>
<g id="h9h"><ellipse cx="157" cy="635" rx="12" ry="2"/></g>
<g id="h9i"><ellipse cx="157" cy="661" rx="12" ry="2"/></g>
<g id="cc1"><ellipse cx="256" cy="643" rx="11" ry="2"/></g>
<g id="cc2"><ellipse cx="297" cy="643" rx="13" ry="2"/></g>
<g id="cc3"><ellipse cx="331" cy="643" rx="13" ry="2"/></g>
<g id="hubH7"><ellipse cx="292" cy="670" rx="11" ry="2"/></g>
<g id="hubH7b"><ellipse cx="371" cy="748" rx="12" ry="2"/></g>
<g id="h7a"><ellipse cx="282" cy="658" rx="6" ry="2"/></g>
<g id="h7b"><ellipse cx="326" cy="660" rx="12" ry="2"/></g>
<g id="h7c"><ellipse cx="361" cy="665" rx="12" ry="2"/></g>
<g id="h7d"><ellipse cx="387" cy="681" rx="10" ry="2"/></g>
<g id="h7e"><ellipse cx="399" cy="704" rx="13" ry="2"/></g>
<g id="h7f"><ellipse cx="267" cy="688" rx="10" ry="2"/></g>
<g id="h7g"><ellipse cx="264" cy="713" rx="12" ry="2"/></g>
<g id="h7h"><ellipse cx="302" cy="752" rx="9" ry="2"/></g>
<g id="h7i"><ellipse cx="337" cy="757" rx="10" ry="2"/></g>
<g id="h7j"><ellipse cx="393" cy="729" rx="9" ry="2"/></g>
<g id="h7k"><ellipse cx="276" cy="736" rx="9" ry="2"/></g>
<g id="h7l"><ellipse cx="227" cy="701" rx="6" ry="2"/></g>
<g id="bl1"><ellipse cx="112" cy="734" rx="12" ry="2"/></g>
<g id="bl2"><ellipse cx="147" cy="734" rx="12" ry="2"/></g>
<g id="bl3"><ellipse cx="182" cy="734" rx="12" ry="2"/></g>
<g id="bm1"><ellipse cx="230" cy="726" rx="10" ry="2"/></g>
<g id="bm2"><ellipse cx="233" cy="742" rx="14" ry="2"/></g>
<g id="bm3"><ellipse cx="157" cy="747" rx="13" ry="2"/></g>
<g id="bm4"><ellipse cx="183" cy="747" rx="12" ry="2"/></g>
<g id="bm5"><ellipse cx="218" cy="768" rx="17" ry="2"/></g>
<g id="bm6"><ellipse cx="257" cy="765" rx="13" ry="2"/></g>
<g id="bn1"><ellipse cx="64" cy="753" rx="13" ry="2"/></g>
<g id="bn2"><ellipse cx="95" cy="766" rx="9" ry="2"/></g>
<g id="bn3"><ellipse cx="64" cy="779" rx="10" ry="2"/></g>
<g id="bo1"><ellipse cx="116" cy="749" rx="20" ry="2"/></g>
<g id="bo2"><ellipse cx="152" cy="764" rx="12" ry="2"/></g>
<g id="bo3"><ellipse cx="116" cy="779" rx="11" ry="2"/></g>
<g id="bp1"><ellipse cx="396" cy="757" rx="15" ry="2"/></g>
<g id="bp2"><ellipse cx="436" cy="757" rx="13" ry="2"/></g>
<g id="bp3"><ellipse cx="469" cy="757" rx="13" ry="2"/></g>
<g id="bq1"><ellipse cx="428" cy="723" rx="13" ry="2"/></g>
<g id="bq2"><ellipse cx="459" cy="723" rx="8" ry="2"/></g>
<g id="bq3"><ellipse cx="491" cy="723" rx="9" ry="2"/></g>
<g id="br1"><ellipse cx="93" cy="868" rx="10" ry="2"/></g>
<g id="br2"><ellipse cx="130" cy="859" rx="10" ry="2"/></g>
<g id="br3"><ellipse cx="152" cy="882" rx="13" ry="2"/></g>
<g id="br4"><ellipse cx="93" cy="896" rx="10" ry="2"/></g>
<g id="br5"><ellipse cx="130" cy="904" rx="15" ry="2"/></g>
<g id="bs1"><ellipse cx="62" cy="904" rx="13" ry="2"/></g>
<g id="bs2"><ellipse cx="89" cy="916" rx="8" ry="2"/></g>
<g id="bs3"><ellipse cx="62" cy="927" rx="10" ry="2"/></g>
<g id="bu1"><ellipse cx="202" cy="893" rx="13" ry="2"/></g>
<g id="bu2"><ellipse cx="175" cy="916" rx="17" ry="2"/></g>
<g id="bu3"><ellipse cx="217" cy="916" rx="13" ry="2"/></g>
<g id="bv1"><ellipse cx="252" cy="904" rx="8" ry="2"/></g>
<g id="bv2"><ellipse cx="279" cy="916" rx="10" ry="2"/></g>
<g id="bv3"><ellipse cx="252" cy="927" rx="13" ry="2"/></g>
<g id="bw1"><ellipse cx="362" cy="892" rx="12" ry="2"/></g>
<g id="bw2"><ellipse cx="339" cy="916" rx="17" ry="2"/></g>
<g id="bw3"><ellipse cx="377" cy="916" rx="12" ry="2"/></g>
<g id="bx1"><ellipse cx="288" cy="870" rx="12" ry="2"/></g>
<g id="bx2"><ellipse cx="264" cy="887" rx="10" ry="2"/></g>
<g id="bx3"><ellipse cx="312" cy="887" rx="10" ry="2"/></g>
<g id="bx4"><ellipse cx="288" cy="904" rx="12" ry="2"/></g>
<g id="by1"><ellipse cx="318" cy="826" rx="10" ry="2"/></g>
<g id="by2"><ellipse cx="362" cy="826" rx="12" ry="2"/></g>
<g id="by3"><ellipse cx="296" cy="854" rx="10" ry="2"/></g>
<g id="by4"><ellipse cx="386" cy="854" rx="16" ry="2"/></g>
<g id="by5"><ellipse cx="319" cy="881" rx="13" ry="2"/></g>
<g id="by6"><ellipse cx="362" cy="881" rx="17" ry="2"/></g>
<g id="hubS2"><ellipse cx="225" cy="860" rx="10" ry="2"/></g>
<g id="s2a"><ellipse cx="219" cy="838" rx="8" ry="2"/></g>
<g id="s2b"><ellipse cx="240" cy="840" rx="5" ry="2"/></g>
<g id="s2c"><ellipse cx="255" cy="852" rx="8" ry="2"/></g>
<g id="s2d"><ellipse cx="255" cy="869" rx="6" ry="2"/></g>
<g id="s2e"><ellipse cx="237" cy="881" rx="6" ry="2"/></g>
<g id="s2f"><ellipse cx="213" cy="881" rx="8" ry="2"/></g>
<g id="s2g"><ellipse cx="196" cy="870" rx="6" ry="2"/></g>
<g id="s2h"><ellipse cx="197" cy="851" rx="9" ry="2"/></g>
<g id="s2i"><ellipse cx="157" cy="861" rx="13" ry="2"/></g>
<g id="hubS3"><ellipse cx="468" cy="830" rx="12" ry="2"/></g>
<g id="s3a"><ellipse cx="446" cy="808" rx="8" ry="2"/></g>
<g id="s3b"><ellipse cx="470" cy="802" rx="7" ry="2"/></g>
<g id="s3c"><ellipse cx="491" cy="807" rx="6" ry="2"/></g>
<g id="s3d"><ellipse cx="506" cy="829" rx="17" ry="2"/></g>
<g id="s3e"><ellipse cx="491" cy="853" rx="9" ry="2"/></g>
<g id="s3f"><ellipse cx="468" cy="859" rx="7" ry="2"/></g>
<g id="s3g"><ellipse cx="445" cy="853" rx="6" ry="2"/></g>
<g id="s3h"><ellipse cx="389" cy="830" rx="10" ry="2"/></g>
<g id="bz1"><ellipse cx="446" cy="893" rx="7" ry="2"/></g>
<g id="bz2"><ellipse cx="458" cy="867" rx="14" ry="2"/></g>
<g id="bz3"><ellipse cx="416" cy="876" rx="15" ry="2"/></g>
<g id="bz4"><ellipse cx="484" cy="893" rx="14" ry="2"/></g>
<g id="bz5"><ellipse cx="412" cy="904" rx="15" ry="2"/></g>
<g id="hubS4"><ellipse cx="666" cy="814" rx="12" ry="2"/></g>
<g id="s4a"><ellipse cx="648" cy="782" rx="6" ry="2"/></g>
<g id="s4b"><ellipse cx="670" cy="781" rx="6" ry="2"/></g>
<g id="s4c"><ellipse cx="695" cy="788" rx="12" ry="2"/></g>
<g id="s4d"><ellipse cx="710" cy="806" rx="8" ry="2"/></g>
<g id="s4e"><ellipse cx="710" cy="822" rx="6" ry="2"/></g>
<g id="s4f"><ellipse cx="701" cy="835" rx="7" ry="2"/></g>
<g id="s4g"><ellipse cx="683" cy="844" rx="7" ry="2"/></g>
<g id="s4h"><ellipse cx="662" cy="847" rx="8" ry="2"/></g>
<g id="s4i"><ellipse cx="641" cy="843" rx="6" ry="2"/></g>
<g id="s4j"><ellipse cx="620" cy="828" rx="13" ry="2"/></g>
<g id="s4k"><ellipse cx="622" cy="799" rx="18" ry="2"/></g>
<g id="s4l"><ellipse cx="580" cy="814" rx="8" ry="2"/></g>
<g id="ca1"><ellipse cx="696" cy="779" rx="12" ry="2"/></g>
<g id="ca2"><ellipse cx="733" cy="779" rx="13" ry="2"/></g>
<g id="ca3"><ellipse cx="772" cy="779" rx="13" ry="2"/></g>
<g id="cb1"><ellipse cx="534" cy="802" rx="12" ry="2"/></g>
<g id="cb2"><ellipse cx="567" cy="802" rx="12" ry="2"/></g>
<g id="cd1"><ellipse cx="552" cy="827" rx="10" ry="2"/></g>
<g id="cd2"><ellipse cx="577" cy="836" rx="10" ry="2"/></g>
<g id="cd3"><ellipse cx="552" cy="847" rx="10" ry="2"/></g>
<g id="ce1"><ellipse cx="577" cy="858" rx="12" ry="2"/></g>
<g id="ce2"><ellipse cx="605" cy="846" rx="12" ry="2"/></g>
<g id="ce3"><ellipse cx="610" cy="870" rx="10" ry="2"/></g>
<g id="ce4"><ellipse cx="513" cy="858" rx="6" ry="2"/></g>
<g id="k61"><ellipse cx="646" cy="860" rx="10" ry="2"/></g>
<g id="k62"><ellipse cx="682" cy="860" rx="12" ry="2"/></g>
<g id="k63"><ellipse cx="629" cy="882" rx="10" ry="2"/></g>
<g id="k64"><ellipse cx="701" cy="882" rx="10" ry="2"/></g>
<g id="k65"><ellipse cx="646" cy="904" rx="10" ry="2"/></g>
<g id="k66"><ellipse cx="682" cy="904" rx="13" ry="2"/></g>
<g id="cf1"><ellipse cx="616" cy="915" rx="14" ry="2"/></g>
<g id="cf2"><ellipse cx="656" cy="915" rx="17" ry="2"/></g>
<g id="cf3"><ellipse cx="698" cy="915" rx="15" ry="2"/></g>
<g id="cg1"><ellipse cx="511" cy="881" rx="6" ry="2"/></g>
<g id="cg2"><ellipse cx="557" cy="881" rx="13" ry="2"/></g>
<g id="cg3"><ellipse cx="540" cy="904" rx="10" ry="2"/></g>
<g id="cg4"><ellipse cx="577" cy="904" rx="13" ry="2"/></g>
<g id="dh1"><ellipse cx="1094" cy="104" rx="11" ry="2"/></g>
<g id="dh2"><ellipse cx="1065" cy="124" rx="16" ry="2"/></g>
<g id="dh3"><ellipse cx="1123" cy="124" rx="12" ry="2"/></g>
<g id="dh4"><ellipse cx="1094" cy="145" rx="14" ry="2"/></g>
<g id="ee1"><ellipse cx="1155" cy="116" rx="7" ry="2"/></g>
<g id="ee2"><ellipse cx="1185" cy="109" rx="10" ry="2"/></g>
<g id="ee3"><ellipse cx="1230" cy="118" rx="15" ry="2"/></g>
<g id="ee4"><ellipse cx="1204" cy="127" rx="10" ry="2"/></g>
<g id="ee5"><ellipse cx="1155" cy="138" rx="10" ry="2"/></g>
<g id="ee6"><ellipse cx="1185" cy="145" rx="10" ry="2"/></g>
<g id="ee7"><ellipse cx="1227" cy="141" rx="7" ry="2"/></g>
<g id="hubS1"><ellipse cx="1119" cy="200" rx="11" ry="2"/></g>
<g id="s1a"><ellipse cx="1096" cy="155" rx="20" ry="2"/></g>
<g id="s1b"><ellipse cx="1132" cy="153" rx="5" ry="2"/></g>
<g id="s1c"><ellipse cx="1152" cy="158" rx="5" ry="2"/></g>
<g id="s1d"><ellipse cx="1171" cy="169" rx="8" ry="2"/></g>
<g id="s1e"><ellipse cx="1185" cy="187" rx="8" ry="2"/></g>
<g id="s1f"><ellipse cx="1186" cy="206" rx="6" ry="2"/></g>
<g id="s1g"><ellipse cx="1177" cy="225" rx="10" ry="2"/></g>
<g id="s1h"><ellipse cx="1157" cy="240" rx="6" ry="2"/></g>
<g id="s1i"><ellipse cx="1137" cy="246" rx="12" ry="2"/></g>
<g id="s1j"><ellipse cx="1110" cy="247" rx="5" ry="2"/></g>
<g id="s1k"><ellipse cx="1082" cy="240" rx="6" ry="2"/></g>
<g id="s1l"><ellipse cx="1063" cy="226" rx="10" ry="2"/></g>
<g id="s1m"><ellipse cx="1053" cy="208" rx="5" ry="2"/></g>
<g id="s1n"><ellipse cx="1053" cy="191" rx="6" ry="2"/></g>
<g id="s1o"><ellipse cx="1064" cy="172" rx="9" ry="2"/></g>
<g id="s1p"><ellipse cx="1011" cy="200" rx="12" ry="2"/></g>
<g id="ef1"><ellipse cx="1121" cy="259" rx="9" ry="2"/></g>
<g id="ef2"><ellipse cx="1186" cy="259" rx="11" ry="2"/></g>
<g id="ef3"><ellipse cx="1216" cy="250" rx="7" ry="2"/></g>
<g id="ef4"><ellipse cx="1216" cy="269" rx="11" ry="2"/></g>
<g id="eg1"><ellipse cx="1016" cy="97" rx="12" ry="2"/></g>
<g id="eg2"><ellipse cx="1045" cy="110" rx="8" ry="2"/></g>
<g id="eg3"><ellipse cx="1016" cy="122" rx="14" ry="2"/></g>
<g id="bc1"><ellipse cx="986" cy="122" rx="10" ry="2"/></g>
<g id="bc2"><ellipse cx="953" cy="126" rx="12" ry="2"/></g>
<g id="bc3"><ellipse cx="932" cy="144" rx="8" ry="2"/></g>
<g id="bc4"><ellipse cx="932" cy="168" rx="11" ry="2"/></g>
<g id="bc5"><ellipse cx="953" cy="186" rx="10" ry="2"/></g>
<g id="bc6"><ellipse cx="986" cy="191" rx="10" ry="2"/></g>
<g id="bc7"><ellipse cx="1015" cy="178" rx="7" ry="2"/></g>
<g id="bc8"><ellipse cx="1026" cy="156" rx="8" ry="2"/></g>
<g id="bc9"><ellipse cx="1015" cy="134" rx="13" ry="2"/></g>
<g id="eh1"><ellipse cx="943" cy="204" rx="12" ry="2"/></g>
<g id="eh2"><ellipse cx="981" cy="220" rx="16" ry="2"/></g>
<g id="eh3"><ellipse cx="943" cy="236" rx="14" ry="2"/></g>
<g id="ei1"><ellipse cx="946" cy="248" rx="18" ry="2"/></g>
<g id="ei2"><ellipse cx="985" cy="264" rx="20" ry="2"/></g>
<g id="ei3"><ellipse cx="944" cy="281" rx="14" ry="2"/></g>
<g id="ej1"><ellipse cx="932" cy="292" rx="10" ry="2"/></g>
<g id="ej2"><ellipse cx="964" cy="292" rx="10" ry="2"/></g>
<g id="ej3"><ellipse cx="1001" cy="292" rx="12" ry="2"/></g>
<g id="ek1"><ellipse cx="930" cy="318" rx="4" ry="2"/></g>
<g id="ek2"><ellipse cx="971" cy="334" rx="18" ry="2"/></g>
<g id="ek3"><ellipse cx="930" cy="349" rx="10" ry="2"/></g>
<g id="el1"><ellipse cx="934" cy="360" rx="12" ry="2"/></g>
<g id="el2"><ellipse cx="973" cy="360" rx="12" ry="2"/></g>
<g id="el3"><ellipse cx="1008" cy="360" rx="13" ry="2"/></g>
<g id="em1"><ellipse cx="998" cy="383" rx="10" ry="2"/></g>
<g id="em2"><ellipse cx="1025" cy="383" rx="12" ry="2"/></g>
<g id="em3"><ellipse cx="1057" cy="383" rx="8" ry="2"/></g>
<g id="en1"><ellipse cx="948" cy="417" rx="10" ry="2"/></g>
<g id="en2"><ellipse cx="983" cy="417" rx="14" ry="2"/></g>
<g id="en3"><ellipse cx="1016" cy="417" rx="12" ry="2"/></g>
<g id="eo1"><ellipse cx="964" cy="429" rx="16" ry="2"/></g>
<g id="ep1"><ellipse cx="948" cy="533" rx="12" ry="2"/></g>
<g id="ep2"><ellipse cx="1045" cy="533" rx="12" ry="2"/></g>
<g id="eq1"><ellipse cx="954" cy="550" rx="12" ry="2"/></g>
<g id="eq2"><ellipse cx="984" cy="563" rx="10" ry="2"/></g>
<g id="eq3"><ellipse cx="954" cy="575" rx="10" ry="2"/></g>
<g id="er1"><ellipse cx="991" cy="553" rx="10" ry="2"/></g>
<g id="er2"><ellipse cx="1028" cy="553" rx="10" ry="2"/></g>
<g id="c2a"><ellipse cx="1025" cy="567" rx="14" ry="2"/></g>
<g id="c2b"><ellipse cx="1074" cy="563" rx="15" ry="2"/></g>
<g id="c2c"><ellipse cx="1129" cy="576" rx="14" ry="2"/></g>
<g id="c2d"><ellipse cx="1166" cy="605" rx="18" ry="2"/></g>
<g id="c2e"><ellipse cx="1177" cy="643" rx="14" ry="2"/></g>
<g id="c2f"><ellipse cx="1164" cy="680" rx="18" ry="2"/></g>
<g id="c2g"><ellipse cx="954" cy="623" rx="15" ry="2"/></g>
<g id="c2h"><ellipse cx="980" cy="589" rx="13" ry="2"/></g>
<g id="c2i"><ellipse cx="954" cy="662" rx="16" ry="2"/></g>
<g id="c2j"><ellipse cx="980" cy="696" rx="15" ry="2"/></g>
<g id="c2k"><ellipse cx="1021" cy="716" rx="22" ry="2"/></g>
<g id="c2l"><ellipse cx="1077" cy="721" rx="15" ry="2"/></g>
<g id="c2m"><ellipse cx="1129" cy="709" rx="10" ry="2"/></g>
<g id="es1"><ellipse cx="1137" cy="496" rx="8" ry="2"/></g>
<g id="es2"><ellipse cx="1171" cy="496" rx="10" ry="2"/></g>
<g id="es3"><ellipse cx="1210" cy="496" rx="12" ry="2"/></g>
<g id="et1"><ellipse cx="1107" cy="513" rx="25" ry="2"/></g>
<g id="et2"><ellipse cx="1107" cy="553" rx="20" ry="2"/></g>
<g id="eu1"><ellipse cx="1169" cy="512" rx="18" ry="2"/></g>
<g id="eu2"><ellipse cx="1199" cy="512" rx="12" ry="2"/></g>
<g id="eu3"><ellipse cx="1112" cy="531" rx="17" ry="2"/></g>
<g id="eu4"><ellipse cx="1183" cy="531" rx="12" ry="2"/></g>
<g id="eu5"><ellipse cx="1166" cy="553" rx="13" ry="2"/></g>
<g id="eu6"><ellipse cx="1201" cy="553" rx="15" ry="2"/></g>
<g id="ev1"><ellipse cx="1060" cy="553" rx="12" ry="2"/></g>
<g id="ew1"><ellipse cx="1119" cy="564" rx="22" ry="2"/></g>
<g id="ew2"><ellipse cx="1171" cy="564" rx="17" ry="2"/></g>
<g id="ew3"><ellipse cx="1221" cy="564" rx="18" ry="2"/></g>
<g id="ex1"><ellipse cx="1201" cy="573" rx="12" ry="2"/></g>
<g id="ex2"><ellipse cx="1176" cy="598" rx="17" ry="2"/></g>
<g id="ex3"><ellipse cx="1219" cy="598" rx="17" ry="2"/></g>
<g id="ey1"><ellipse cx="1177" cy="700" rx="12" ry="2"/></g>
<g id="ey2"><ellipse cx="1157" cy="722" rx="10" ry="2"/></g>
<g id="ey3"><ellipse cx="1196" cy="723" rx="12" ry="2"/></g>
<g id="hubH11"><ellipse cx="1157" cy="754" rx="10" ry="2"/></g>
<g id="ez1"><ellipse cx="1157" cy="731" rx="10" ry="2"/></g>
<g id="ez2"><ellipse cx="1086" cy="754" rx="8" ry="2"/></g>
<g id="ez3"><ellipse cx="1187" cy="741" rx="12" ry="2"/></g>
<g id="ez4"><ellipse cx="1187" cy="768" rx="18" ry="2"/></g>
<g id="ez5"><ellipse cx="1157" cy="779" rx="8" ry="2"/></g>
<g id="fa1"><ellipse cx="1187" cy="836" rx="12" ry="2"/></g>
<g id="fa2"><ellipse cx="1207" cy="815" rx="12" ry="2"/></g>
<g id="fa3"><ellipse cx="1221" cy="836" rx="16" ry="2"/></g>
</g>
</g>
</svg>
